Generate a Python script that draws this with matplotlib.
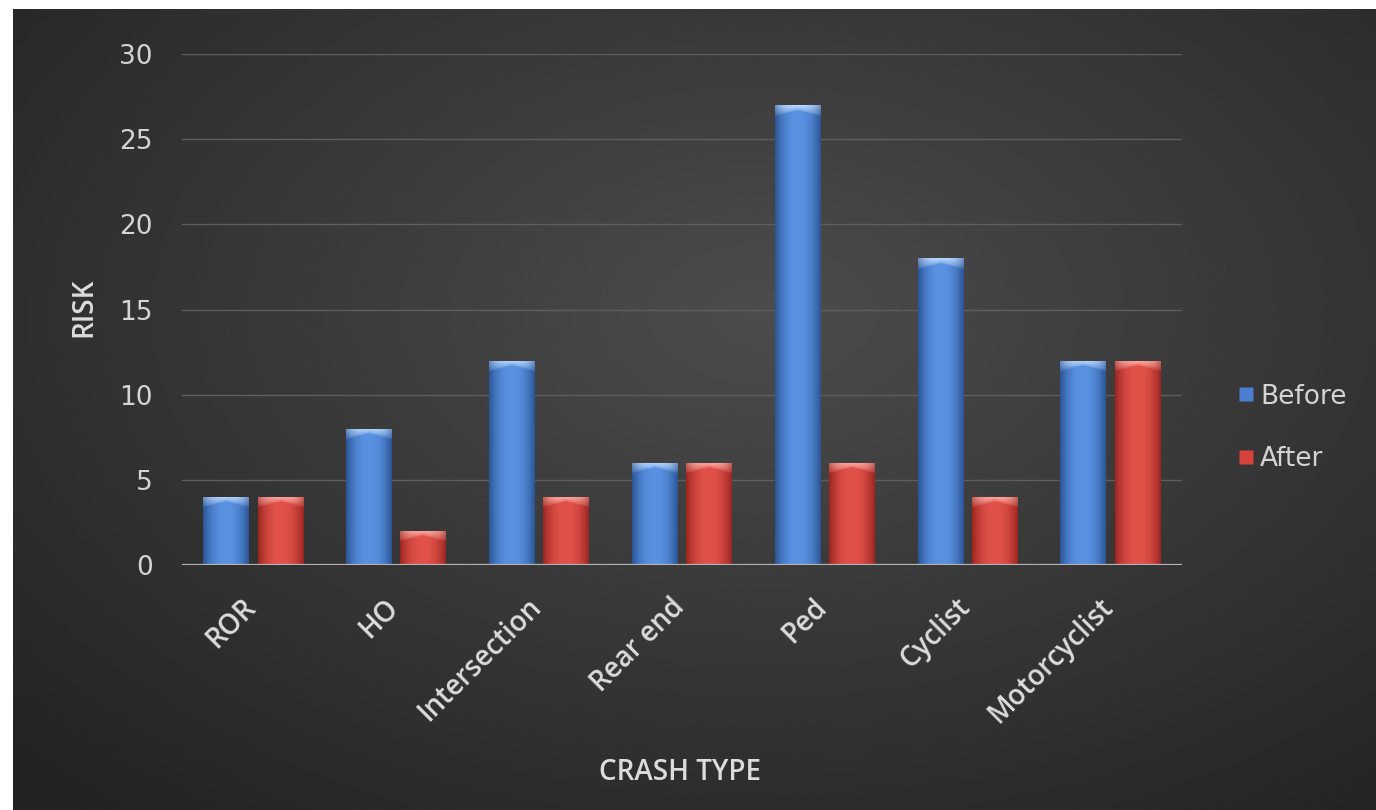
import numpy as np
import matplotlib.pyplot as plt
from matplotlib.colors import to_rgb
from matplotlib.lines import Line2D
from matplotlib.transforms import ScaledTranslation

# data
categories = ["ROR", "HO", "Intersection", "Rear end", "Ped", "Cyclist", "Motorcyclist"]
before = [4, 8, 12, 6, 27, 18, 12]
after = [4, 2, 4, 6, 6, 4, 12]
yticks = [0, 5, 10, 15, 20, 25, 30]

W, H = 1376, 810
fig = plt.figure(figsize=(W / 100, H / 100), dpi=100, facecolor="white")

# dark panel with a soft radial glow
bg = fig.add_axes([13 / W, 0, 1 - 13 / W, (H - 9) / H])
bg.set_axis_off()
yy, xx = np.mgrid[0:1:300j, 0:1:500j]
r = np.sqrt(((xx - 0.55) / 0.7) ** 2 + ((yy - 0.38) / 0.75) ** 2)
shade = np.clip(0.30 - 0.15 * r, 0.14, 0.30)
bg.imshow(shade, cmap="gray", vmin=0, vmax=1, aspect="auto",
          extent=[0, 1, 0, 1], origin="upper", interpolation="bicubic")
bg.set_xlim(0, 1)
bg.set_ylim(0, 1)

ax = fig.add_axes([182 / W, (H - 565) / H, (1182 - 182) / W, (565 - 54) / H])
ax.patch.set_alpha(0)

x = np.arange(len(categories))
bw = 0.322
off = 0.19

b1 = ax.bar(x - off, before, bw, color="#4a7fd0", zorder=3)
b2 = ax.bar(x + off, after, bw, color="#d6433b", zorder=3)

px_per_unit = (565 - 54) / 30.0
top_h = 11 / px_per_unit


def shade_bar(bar, base, dark, light):
    x0, y0 = bar.get_x(), bar.get_y()
    w, h = bar.get_width(), bar.get_height()
    nx, ny = 60, max(int(h * 30), 20)
    t = np.linspace(0, 1, nx)
    prof = 1 - np.abs(2 * t - 1) ** 2.2
    depth = np.linspace(0, h, ny)[:, None]
    base, dark, light = map(np.array, (to_rgb(base), to_rgb(dark), to_rgb(light)))
    img = dark + (base - dark) * prof[None, :, None]
    img = np.repeat(img, ny, axis=0)
    # chevron-like highlight on the top cap
    cap = top_h * (0.45 + 0.55 * np.abs(2 * t - 1))[None, :]
    hl = np.clip(1 - depth / cap, 0, 1) ** 0.5 * (0.45 + 0.55 * prof[None, :])
    img = img + (light - img) * hl[:, :, None] * 0.9
    im = ax.imshow(img, extent=[x0, x0 + w, y0, y0 + h], aspect="auto",
                   origin="upper", zorder=4, interpolation="bilinear")
    im.set_clip_path(bar)


for bar in b1:
    shade_bar(bar, "#5a92e2", "#2c5597", "#c6e0ff")
for bar in b2:
    shade_bar(bar, "#e2524a", "#9c2621", "#ffb8b0")

ax.set_xlim(-0.5, len(categories) - 0.5)
ax.set_ylim(0, 30)
ax.set_yticks(yticks)
ax.set_xticks(x)

for s in ax.spines.values():
    s.set_visible(False)
ax.yaxis.grid(True, color="#5e5e5e", lw=1, zorder=0)
ax.axhline(0, color="#b4b4b4", lw=1.6, zorder=5)
ax.tick_params(length=0)
ax.tick_params(axis="y", pad=21, labelsize=19, labelcolor="#d4d4d4")
for lab in ax.get_yticklabels():
    lab.set_fontfamily("DejaVu Sans")

ax.set_xticklabels(categories, rotation=45, ha="right", va="top",
                   rotation_mode="anchor", fontsize=20, color="#dcdcdc",
                   fontfamily="Open Sans", fontweight="semibold")
ax.tick_params(axis="x", pad=20)
shift = ScaledTranslation(-12 / 100, 0, fig.dpi_scale_trans)
for lab in ax.get_xticklabels():
    lab.set_transform(lab.get_transform() + shift)

fig.text(84 / W, 1 - 307 / H, "RISK", rotation=90, ha="center", va="center",
         fontsize=20, color="#dcdcdc", fontfamily="Open Sans", fontweight="semibold")
fig.text(680 / W, 1 - 773 / H, "CRASH TYPE", ha="center", va="center",
         fontsize=20, color="#dcdcdc", fontfamily="Open Sans", fontweight="semibold")

handles = [Line2D([], [], ls="none", marker="s", ms=10, mfc="#4a7fd0", mec="none"),
           Line2D([], [], ls="none", marker="s", ms=10, mfc="#d6433b", mec="none")]
leg = fig.legend(handles, ["Before", "After"], loc="center left",
                 bbox_to_anchor=(1214 / W, 1 - 428 / H), frameon=False,
                 labelcolor="#d4d4d4", labelspacing=1.4,
                 handlelength=0.6, handletextpad=0.25,
                 prop={"family": "DejaVu Sans", "size": 19})

fig.savefig("out.png", dpi=100, facecolor="white")
